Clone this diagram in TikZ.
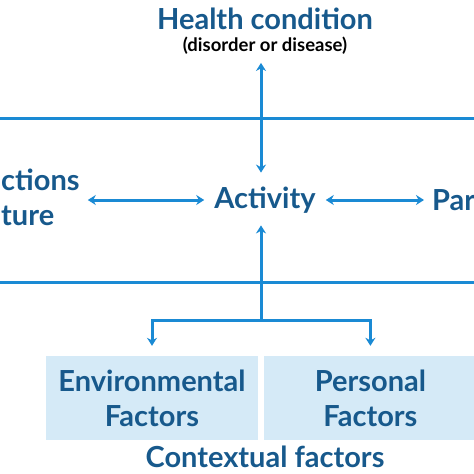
\documentclass[tikz,border=0pt]{standalone}
\usepackage{fontspec}
\setmainfont{Lato}
\usetikzlibrary{positioning,arrows.meta}
\definecolor{icftexte}{HTML}{17598C}
\definecolor{icftrait}{HTML}{1A8AD4}
\definecolor{icffond}{HTML}{D5EAF7}
\tikzstyle{titre}=[text=icftexte,font=\bfseries\fontsize{29}{31}\selectfont,inner sep=0pt]
\tikzstyle{soustitre}=[text=black,font=\bfseries\fontsize{18.5}{20}\selectfont,inner sep=0pt]
\tikzstyle{boite}=[rectangle,fill=icffond,minimum width=212pt,minimum height=84pt,inner sep=0pt,text=icftexte,font=\bfseries\fontsize{29}{35}\selectfont,align=center]
\tikzstyle{trait}=[draw=icftrait,line width=3pt]
\tikzstyle{fleche}=[trait,-{Stealth[length=8pt,width=10pt]}]
\tikzstyle{double}=[trait,{Stealth[length=8pt,width=10pt]}-{Stealth[length=8pt,width=10pt]}]

\begin{document}
\begin{tikzpicture}[x=1pt,y=-1pt]
\useasboundingbox (0,0) rectangle (474,474);
\clip (0,0) rectangle (474,474);

\coordinate (axe) at (261,0);
\node[titre] (health) at (265,19) {Health condition};
\node[soustitre] (disorder) at (265,46) {(disorder or disease)};
\node[titre] (activity) at (265,200) {Activity};
\node[titre,anchor=west] (bodyfn) at (1,180) {ctions};
\node[titre,anchor=west] (bodyst) at (1,216) {ture};
\node[titre,anchor=west] (partic) at (432,200) {Par};
\node[boite] (envfac) at (152,398) {Environmental\\Factors};
\node[boite] (persfac) [right=6pt of envfac] {Personal\\Factors};
\node[titre] (context) at (265,457) {Contextual factors};
\coordinate (embr) at (261,320);

\draw[trait] (0,118) -- (474,118);
\draw[trait] (0,282) -- (474,282);

\draw[double] ([yshift=-8pt]disorder.south -| axe) -- ([yshift=14pt]activity.north -| axe);
\draw[double] ([xshift=8pt]bodyfn.east |- activity) -- ([xshift=-10pt]activity.west);
\draw[double] ([xshift=10pt]activity.east) -- ([xshift=-8pt]partic.west);
\draw[fleche] (embr) -- ([yshift=-12pt]activity.south -| axe);
\draw[fleche] (embr) -| ([yshift=10pt]envfac.north);
\draw[fleche] (embr) -| ([yshift=10pt]persfac.north);

\end{tikzpicture}
\end{document}
